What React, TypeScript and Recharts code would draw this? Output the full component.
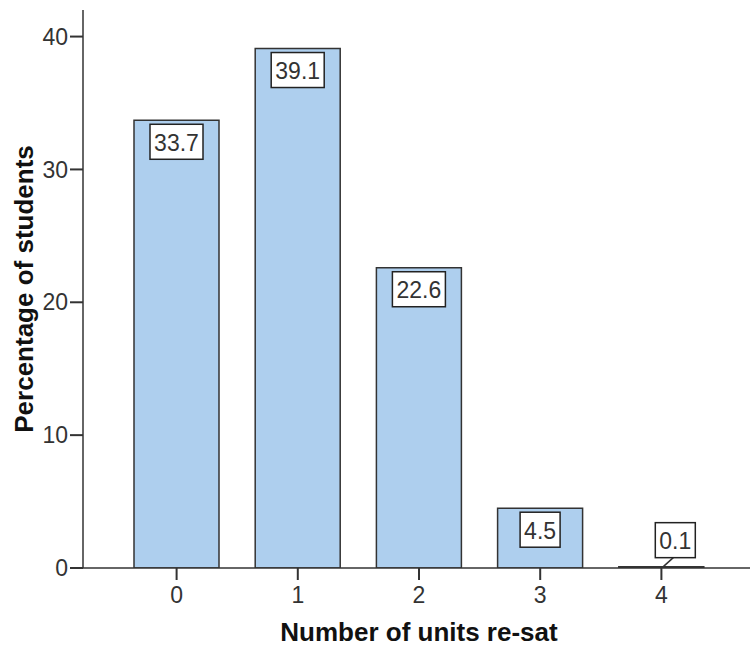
import React from 'react';
import { BarChart, Bar, XAxis, YAxis, LabelList } from 'recharts';

const units = ['0', '1', '2', '3', '4'];
const percentages = [33.7, 39.1, 22.6, 4.5, 0.1];
const yTicks = [0, 10, 20, 30, 40];

const data = units.map((u, i) => ({ units: u, pct: percentages[i] }));

const FONT = '"Liberation Sans", Arial, sans-serif';

// SPSS-style boxed value label; small bars get the box lifted above with a leader line
const ValueLabel = (props: any) => {
  const { x, y, width, height, value } = props;
  const txt = Number(value).toFixed(1);
  const bw = txt.length * 13 + 1;
  const bh = 35;
  const cx = x + width / 2;
  if (height < bh + 8) {
    const bcx = cx + 14;
    const by = y - bh - 9;
    return (
      <g>
        <line x1={cx + 2} y1={y} x2={cx + 12} y2={by + bh} stroke="#333" strokeWidth={1.5} />
        <rect x={bcx - bw / 2} y={by} width={bw} height={bh} fill="#fff" stroke="#222" strokeWidth={1.5} />
        <text x={bcx} y={by + bh / 2 + 1} textAnchor="middle" dominantBaseline="central" fontSize={23} fontFamily={FONT} fill="#333">
          {txt}
        </text>
      </g>
    );
  }
  const by = y + 4;
  return (
    <g>
      <rect x={cx - bw / 2} y={by} width={bw} height={bh} fill="#fff" stroke="#222" strokeWidth={1.5} />
      <text x={cx} y={by + bh / 2 + 1} textAnchor="middle" dominantBaseline="central" fontSize={23} fontFamily={FONT} fill="#333">
        {txt}
      </text>
    </g>
  );
};

export default function App() {
  return (
    <div style={{ position: 'absolute', left: 0, top: 0, width: 750, height: 647, overflow: 'hidden', background: '#fff' }}>
      <BarChart width={760} height={647} data={data} margin={{ top: 10, right: 5, bottom: 0, left: 0 }}>
        <XAxis
          xAxisId="top"
          orientation="top"
          dataKey="units"
          height={0}
          tick={false}
          tickLine={false}
          axisLine={{ stroke: '#888', strokeWidth: 2 }}
          padding={{ left: 33, right: 33 }}
        />
        <XAxis
          dataKey="units"
          height={79}
          padding={{ left: 33, right: 33 }}
          tickSize={12}
          tickMargin={7}
          axisLine={{ stroke: '#333', strokeWidth: 1.5 }}
          tickLine={{ stroke: '#333', strokeWidth: 2 }}
          tick={{ fill: '#333', fontSize: 23, fontFamily: FONT }}
          label={{
            value: 'Number of units re-sat',
            position: 'insideBottom',
            offset: 6,
            fill: '#111',
            fontSize: 26,
            fontWeight: 'bold',
            fontFamily: FONT,
          }}
        />
        <YAxis
          width={83}
          domain={[0, 42]}
          ticks={yTicks}
          allowDataOverflow
          tickSize={13}
          tickMargin={2}
          axisLine={{ stroke: '#333', strokeWidth: 1.5 }}
          tickLine={{ stroke: '#333', strokeWidth: 2 }}
          tick={{ fill: '#333', fontSize: 23, fontFamily: FONT }}
          label={{
            value: 'Percentage of students',
            angle: -90,
            position: 'insideLeft',
            offset: 24,
            fill: '#111',
            fontSize: 26,
            fontWeight: 'bold',
            fontFamily: FONT,
            style: { textAnchor: 'middle' },
          }}
        />
        <Bar dataKey="pct" fill="#aecfee" stroke="#333" strokeWidth={1.5} barSize={85} isAnimationActive={false}>
          <LabelList dataKey="pct" content={ValueLabel} />
        </Bar>
      </BarChart>
    </div>
  );
}
